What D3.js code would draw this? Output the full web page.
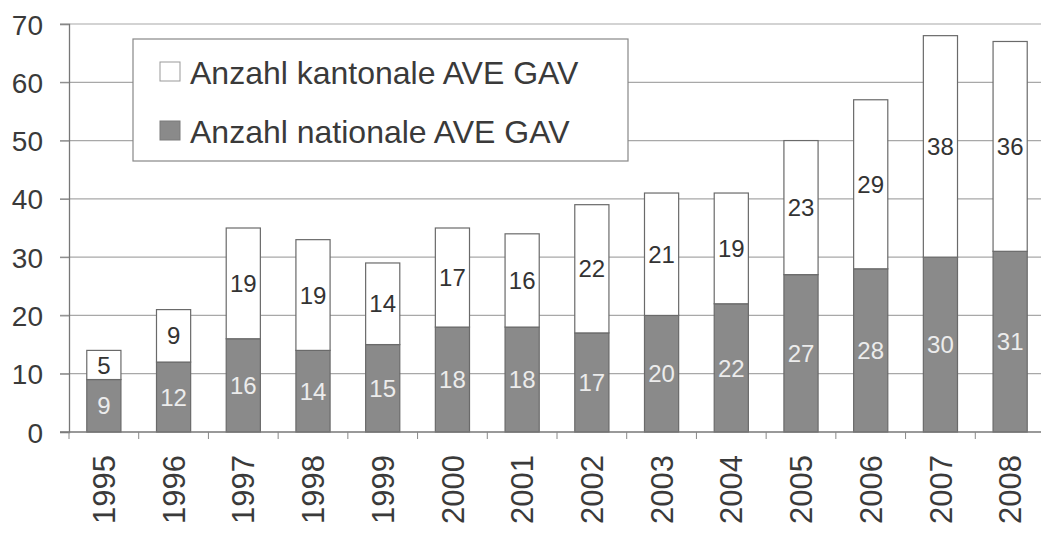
<!DOCTYPE html>
<html>
<head>
<meta charset="utf-8">
<script src="https://cdn.jsdelivr.net/npm/d3@7"></script>
<style>
  html, body { margin: 0; padding: 0; background: #fff; }
  svg text { font-family: "Liberation Sans", Arial, sans-serif; }
</style>
</head>
<body>
<svg id="chart" width="1041" height="533"></svg>
<script>
const years = ["1995", "1996", "1997", "1998", "1999", "2000", "2001", "2002", "2003", "2004", "2005", "2006", "2007", "2008"];
const national = [9, 12, 16, 14, 15, 18, 18, 17, 20, 22, 27, 28, 30, 31];
const cantonal = [5, 9, 19, 19, 14, 17, 16, 22, 21, 19, 23, 29, 38, 36];
const yTicks = [0, 10, 20, 30, 40, 50, 60, 70];
const legendLabels = ["Anzahl kantonale AVE GAV", "Anzahl nationale AVE GAV"];

const svg = d3.select("#chart");
const plotLeft = 69, plotRight = 1045, plotTop = 24, plotBottom = 432;

const x = d3.scaleBand()
    .domain(years)
    .range([plotLeft, plotRight])
    .paddingInner(0.51)
    .paddingOuter(0.255);

const y = d3.scaleLinear()
    .domain([0, 70])
    .range([plotBottom, plotTop]);

const darkFill = "#8a8a8a";
const edge = "#6a6a6a";

// gridlines
svg.append("g")
    .selectAll("line")
    .data(yTicks.filter(t => t > 0))
    .enter()
    .append("line")
    .attr("x1", plotLeft - 9)
    .attr("x2", 1041)
    .attr("y1", d => y(d))
    .attr("y2", d => y(d))
    .attr("stroke", "#a8a8a8")
    .attr("stroke-width", 1.2);

// y axis
const yAxis = svg.append("g")
    .attr("transform", `translate(${plotLeft},0)`)
    .call(d3.axisLeft(y).tickValues(yTicks).tickSize(9).tickPadding(17));
yAxis.select(".domain").attr("stroke", "#777").attr("stroke-width", 1.3);
yAxis.selectAll(".tick line").attr("stroke", "#888");
yAxis.selectAll(".tick text")
    .attr("font-size", 28)
    .attr("fill", "#3a3a3a")
    .attr("dy", "0.36em");

// stacked bars
const stackRows = years.map((yr, i) => ({year: yr, national: national[i], cantonal: cantonal[i]}));
const series = d3.stack().keys(["national", "cantonal"])(stackRows);

const groups = svg.append("g")
    .selectAll("g")
    .data(series)
    .enter()
    .append("g")
    .attr("fill", d => d.key === "national" ? darkFill : "#ffffff");

groups.selectAll("rect")
    .data(d => d)
    .enter()
    .append("rect")
    .attr("x", d => x(d.data.year))
    .attr("width", x.bandwidth())
    .attr("y", d => y(d[1]))
    .attr("height", d => y(d[0]) - y(d[1]))
    .attr("stroke", edge)
    .attr("stroke-width", 1.2);

// value labels
series.forEach(s => {
    svg.append("g")
        .selectAll("text")
        .data(s)
        .enter()
        .append("text")
        .attr("x", d => x(d.data.year) + x.bandwidth() / 2)
        .attr("y", d => (y(d[0]) + y(d[1])) / 2)
        .attr("dy", "0.36em")
        .attr("text-anchor", "middle")
        .attr("font-size", 24)
        .attr("fill", s.key === "national" ? "#ececec" : "#333")
        .text(d => d[1] - d[0]);
});

// x axis
const xAxis = svg.append("g")
    .attr("transform", `translate(0,${plotBottom})`)
    .call(d3.axisBottom(x).tickSize(0).tickPadding(0));
xAxis.select(".domain").remove();
svg.append("line")
    .attr("x1", plotLeft - 9).attr("x2", 1041)
    .attr("y1", plotBottom).attr("y2", plotBottom)
    .attr("stroke", "#777").attr("stroke-width", 1.3);
// category boundary ticks
svg.append("g")
    .selectAll("line")
    .data(years)
    .enter()
    .append("line")
    .attr("x1", d => x(d) - x.step() * x.paddingInner() / 2)
    .attr("x2", d => x(d) - x.step() * x.paddingInner() / 2)
    .attr("y1", plotBottom)
    .attr("y2", plotBottom + 7)
    .attr("stroke", "#888");
xAxis.selectAll(".tick text")
    .attr("font-size", 31)
    .attr("fill", "#3a3a3a")
    .attr("text-anchor", "end")
    .attr("transform", "rotate(-90)")
    .attr("x", -23)
    .attr("y", 0)
    .attr("dy", "0.36em");

// legend
const legend = svg.append("g");
legend.append("rect")
    .attr("x", 133).attr("y", 39)
    .attr("width", 495).attr("height", 122)
    .attr("fill", "#fff")
    .attr("stroke", "#888")
    .attr("stroke-width", 1.2);
const legendRows = legend.selectAll("g")
    .data(legendLabels)
    .enter()
    .append("g")
    .attr("transform", (d, i) => `translate(160,${72 + i * 59})`);
legendRows.append("rect")
    .attr("x", 0).attr("y", -10)
    .attr("width", 20).attr("height", 19)
    .attr("fill", (d, i) => i === 0 ? "#fff" : darkFill)
    .attr("stroke", (d, i) => i === 0 ? "#999" : "#7a7a7a");
legendRows.append("text")
    .attr("x", 30)
    .attr("y", 0)
    .attr("dy", "0.36em")
    .attr("font-size", 32)
    .attr("fill", "#3a3a3a")
    .text(d => d);
</script>
</body>
</html>
